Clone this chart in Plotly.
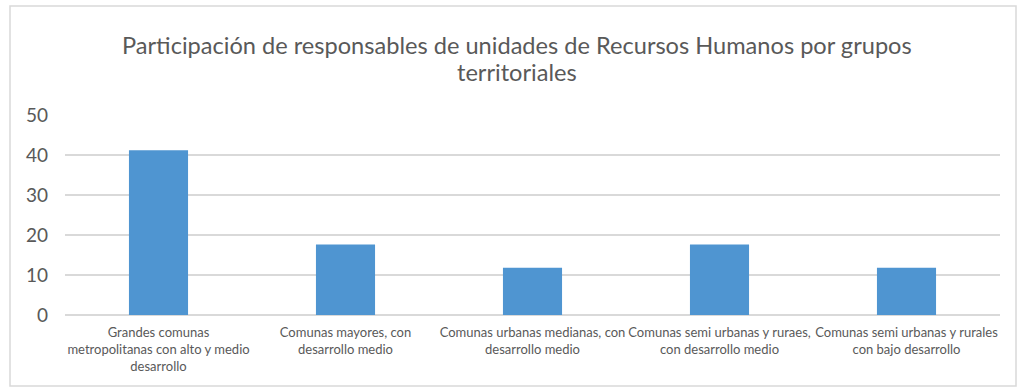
import plotly.graph_objects as go

# Share of HR unit heads by territorial group (%)
categories = [
    "Grandes comunas<br>metropolitanas con alto y medio<br>desarrollo",
    "Comunas mayores, con<br>desarrollo medio",
    "Comunas urbanas medianas, con<br>desarrollo medio",
    "Comunas semi urbanas y ruraes,<br>con desarrollo medio",
    "Comunas semi urbanas y rurales<br>con bajo desarrollo",
]
values = [41.2, 17.6, 11.8, 17.6, 11.8]
y_ticks = [0, 10, 20, 30, 40, 50]

title_lines = [
    "Participación de responsables de unidades de Recursos Humanos por grupos",
    "territoriales",
]

W, H = 1019, 388
m_l, m_r, m_t, m_b = 65, 19, 115, 73
pw, ph = W - m_l - m_r, H - m_t - m_b
FONT = "Lato"

fig = go.Figure(
    go.Bar(
        x=categories,
        y=values,
        marker=dict(color="#4f95d1", line=dict(width=0)),
        hoverinfo="x+y",
    )
)

# outer chart frame, in paper coordinates
def px_x(p):
    return (p - m_l) / pw

def px_y(p):
    return (H - m_b - p) / ph

fig.add_shape(
    type="rect", xref="paper", yref="paper",
    x0=px_x(10), x1=px_x(1016), y0=px_y(386), y1=px_y(6),
    line=dict(color="#d9d9d9", width=1.5), fillcolor="rgba(0,0,0,0)",
    layer="below",
)

# two-line chart title with tight line spacing
for line, y_px in zip(title_lines, [45, 72]):
    fig.add_annotation(
        text=line, showarrow=False,
        xref="paper", yref="paper",
        x=px_x(517), y=px_y(y_px),
        xanchor="center", yanchor="middle",
        font=dict(family=FONT, size=23.6, color="#595959"),
    )

fig.update_layout(
    width=W, height=H,
    margin=dict(l=m_l, r=m_r, t=m_t, b=m_b, autoexpand=False),
    paper_bgcolor="white",
    plot_bgcolor="white",
    bargap=0.684,
    showlegend=False,
    font=dict(family=FONT, color="#595959"),
    xaxis=dict(
        showgrid=False,
        showline=False,
        zeroline=False,
        ticks="",
        tickangle=0,
        ticklabelstandoff=8,
        tickfont=dict(family=FONT, size=13, color="#595959"),
    ),
    yaxis=dict(
        range=[0, 50],
        tickvals=y_ticks,
        showgrid=True,
        gridcolor="#d9d9d9",
        gridwidth=1.5,
        zeroline=True,
        zerolinecolor="#d9d9d9",
        zerolinewidth=1.5,
        showline=False,
        ticks="",
        ticklabelstandoff=16,
        tickfont=dict(family=FONT, size=19, color="#595959"),
    ),
)

fig.write_html("out.html")
